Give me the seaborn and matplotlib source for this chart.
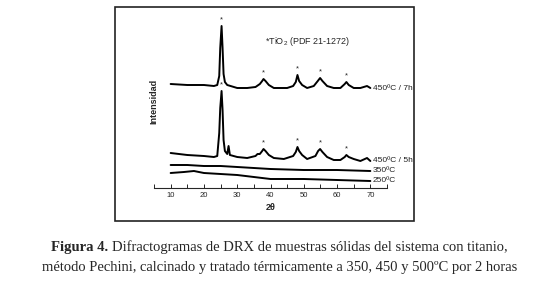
import numpy as np
import pandas as pd
import matplotlib.pyplot as plt
import seaborn as sns
from matplotlib.patches import Rectangle

# 2theta / intensity (arbitrary units)
x_7h = [10, 15, 20, 23, 24, 24.6, 24.9, 25.3, 25.6, 25.9, 26.3, 27, 28, 30, 33, 35.5, 36.8, 37.5, 37.9,
        38.5, 39.5, 41, 45, 46.8, 47.6, 48.1, 48.6, 49.5, 51, 53, 54.2, 54.9, 55.6, 57, 59, 61, 62.3,
        62.8, 63.5, 65, 67, 69, 70]
i_7h = [104, 103, 103, 102, 103, 112, 140, 162, 140, 114, 106, 103, 102, 100, 100, 101, 104, 107, 109,
        107, 103, 100, 100, 102, 106, 113, 107, 103, 100, 102, 107, 110, 107, 102, 100, 100, 104,
        106, 103, 100, 100, 102, 100]

x_5h = [10, 15, 20, 23, 24, 24.6, 24.9, 25.3, 25.6, 25.9, 26.3, 27.0, 27.4, 27.8, 30, 33, 35.5, 36.1,
        36.8, 37.5, 37.9, 38.5, 39.5, 41, 44, 46.8, 47.6, 48.1, 48.6, 49.5, 51, 53.5, 54.3, 54.9, 55.6,
        57, 59, 61, 62.3, 62.8, 63.5, 65, 67, 69, 70]
i_5h = [35, 33, 32, 31, 32, 55, 80, 97, 78, 48, 37, 34, 42, 33, 31, 30, 32, 34,
        34, 37, 39, 37, 33, 30, 29, 32, 36, 41, 37, 33, 29, 32, 37, 39, 36,
        31, 28, 28, 31, 33, 31, 29, 27, 30, 27]

x_350 = [10, 15, 20, 25, 30, 35, 40, 50, 60, 70]
i_350 = [23, 23, 22, 22, 21, 20, 19, 18, 18, 17]

x_250 = [10, 14, 17, 20, 25, 30, 35, 40, 50, 60, 70]
i_250 = [15, 16, 17, 15, 14, 13, 11, 9, 9, 8, 7]

peaks_7h = [25.3, 37.9, 48.1, 54.9, 62.8]
peaks_5h = [25.3, 37.9, 48.1, 54.9, 62.8]

labels = ["450ºC / 7h", "450ºC / 5h", "350ºC", "250ºC"]


def main():
    sns.set_style("white")
    plt.rcParams['font.family'] = ['Liberation Sans', 'DejaVu Sans']
    plt.rcParams['mathtext.fontset'] = 'custom'
    plt.rcParams['mathtext.rm'] = 'Liberation Sans'

    fig = plt.figure(figsize=(5.59, 2.98), dpi=100)
    W, H = 559, 298
    ax = fig.add_axes([154 / W, 1 - 188 / H, (387 - 154) / W, (188 - 15) / H])

    traces = [(x_7h, i_7h), (x_5h, i_5h), (x_350, i_350), (x_250, i_250)]
    for (xs, ys), lab in zip(traces, labels):
        sns.lineplot(x=xs, y=ys, ax=ax, color="black", linewidth=1.4)
        ax.text(70.8, ys[-1], lab, fontsize=6, va="center", ha="left", color="#222222")

    # asterisks over anatase reflections
    for peaks, (xs, ys) in [(peaks_7h, traces[0]), (peaks_5h, traces[1])]:
        for p in peaks:
            ax.text(p, np.interp(p, xs, ys) + 3, "*", fontsize=5.5, ha="center", va="bottom")

    ax.text(38.3, 146, "*TiO$_2$ (PDF 21-1272)", fontsize=6.5, va="center", ha="left")

    ax.set_xlim(5, 75)
    ax.set_ylim(0, 173)
    ax.set_xticks(range(10, 71, 10))
    ax.set_xticks(range(5, 76, 10), minor=True)
    ax.set_yticks([])
    for s in ["top", "right", "left"]:
        ax.spines[s].set_visible(False)
    ax.spines["bottom"].set_linewidth(0.8)
    ax.tick_params(axis="x", which="both", direction="in", length=3, width=0.7,
                   labelsize=5.5, pad=3, bottom=True)
    ax.set_xlabel("2θ", fontsize=6.5, fontweight="bold", labelpad=3)
    ax.set_ylabel("Intensidad", fontsize=6.5, fontweight="bold", labelpad=-3)
    ax.patch.set_alpha(0)

    fig.patches.append(Rectangle((115 / W, 1 - 221 / H), (414 - 115) / W, (221 - 7) / H,
                                 transform=fig.transFigure, fill=False, edgecolor="#222222",
                                 linewidth=1.2))

    # caption: bold lead-in + regular text on line 1, centred as a whole
    cap_fs = 10.5
    y1 = 1 - 247 / H
    t1 = fig.text(0, y1, "Figura 4.", ha="left", va="center",
                  fontsize=cap_fs, family="Liberation Serif", fontweight="bold")
    t2 = fig.text(0, y1, "Difractogramas de DRX de muestras sólidas del sistema con titanio,",
                  ha="left", va="center", fontsize=cap_fs, family="Liberation Serif")
    fig.canvas.draw()
    w1 = t1.get_window_extent().width
    w2 = t2.get_window_extent().width
    gap = 4
    x0 = (W - (w1 + gap + w2)) / 2
    t1.set_x(x0 / W)
    t2.set_x((x0 + w1 + gap) / W)
    fig.text(0.5, 1 - 268 / H,
             "método Pechini, calcinado y tratado térmicamente a 350, 450 y 500ºC por 2 horas",
             ha="center", va="center", fontsize=cap_fs, family="Liberation Serif")

    plt.savefig("out.png", dpi=100)


if __name__ == "__main__":
    main()
